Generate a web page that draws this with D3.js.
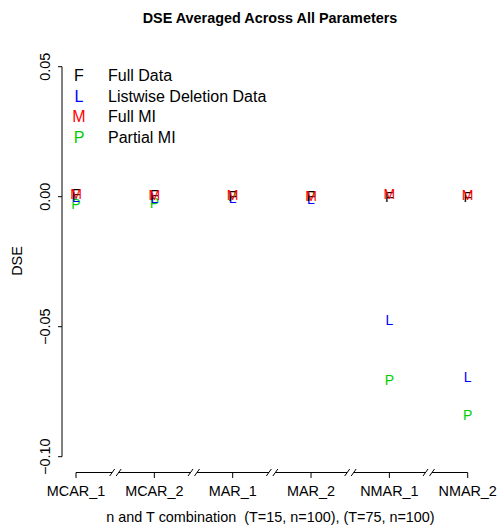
<!DOCTYPE html>
<html>
<head>
<meta charset="utf-8">
<script src="https://cdn.jsdelivr.net/npm/d3@7"></script>
<style>
  html, body { margin: 0; padding: 0; background: #fff; }
  svg { display: block; font-family: "Liberation Sans", Arial, Helvetica, sans-serif; }
</style>
</head>
<body>
<svg id="chart" width="498" height="529"></svg>
<script>
const categories = ["MCAR_1", "MCAR_2", "MAR_1", "MAR_2", "NMAR_1", "NMAR_2"];
const fullData   = [0.0009, 0.0006, 0.0004, 0.0002, 0.0000, 0.0000];
const listwise   = [-0.0002, -0.0006, -0.0006, -0.0009, -0.0474, -0.0695];
const fullMI     = [0.0010, 0.0006, 0.0005, 0.0003, 0.0010, 0.0008];
const partialMI  = [-0.0029, -0.0023, 0.0002, 0.0001, -0.0705, -0.0840];
const yTicks     = [-0.10, -0.05, 0.00, 0.05];
const yTickLabels = ["\u22120.10", "\u22120.05", "0.00", "0.05"];

const series = [
  { letter: "F", name: "Full Data", color: "#000000", values: fullData },
  { letter: "L", name: "Listwise Deletion Data", color: "#0000FF", values: listwise },
  { letter: "M", name: "Full MI", color: "#FF0000", values: fullMI },
  { letter: "P", name: "Partial MI", color: "#00CD00", values: partialMI }
];
// drawing order of the point letters (M ends on top)
const drawOrder = ["P", "L", "F", "M"];

const svg = d3.select("#chart");
const x = d3.scalePoint().domain(categories).range([76, 467.7]);
const y = d3.scaleLinear().domain([-0.10, 0.05]).range([456.7, 66.7]);
const axisX = 62;
const axisY = 472.5;
const tickFs = 14.4;

// Title
svg.append("text")
  .attr("x", 270).attr("y", 23)
  .attr("text-anchor", "middle")
  .attr("font-weight", "bold")
  .attr("font-size", 14.4)
  .text("DSE Averaged Across All Parameters");

// Y axis
const gy = svg.append("g");
gy.append("line")
  .attr("x1", axisX).attr("x2", axisX)
  .attr("y1", y(0.05)).attr("y2", y(-0.10))
  .attr("stroke", "#000").attr("stroke-width", 1);
yTicks.forEach((t, i) => {
  gy.append("line")
    .attr("x1", axisX - 4).attr("x2", axisX)
    .attr("y1", y(t)).attr("y2", y(t))
    .attr("stroke", "#000").attr("stroke-width", 1);
  gy.append("text")
    .attr("transform", `translate(50,${y(t)}) rotate(-90)`)
    .attr("text-anchor", "middle")
    .attr("font-size", tickFs)
    .text(yTickLabels[i]);
});

// Y label
svg.append("text")
  .attr("transform", "translate(21.5,261) rotate(-90)")
  .attr("text-anchor", "middle")
  .attr("font-size", 14.4)
  .text("DSE");

// X axis with break marks
const gx = svg.append("g");
const pos = categories.map(c => x(c));
for (let i = 0; i < pos.length - 1; i++) {
  const m = (pos[i] + pos[i + 1]) / 2;
  const segStart = i === 0 ? pos[i] : (pos[i - 1] + pos[i]) / 2 + 3.5;
  gx.append("line")
    .attr("x1", segStart).attr("x2", m - 3)
    .attr("y1", axisY).attr("y2", axisY)
    .attr("stroke", "#000").attr("stroke-width", 1);
  [m - 3, m + 3.5].forEach(c => {
    gx.append("line")
      .attr("x1", c - 2.5).attr("y1", axisY + 3.5)
      .attr("x2", c + 2.5).attr("y2", axisY - 3.5)
      .attr("stroke", "#000").attr("stroke-width", 1);
  });
}
{
  const m = (pos[pos.length - 2] + pos[pos.length - 1]) / 2;
  gx.append("line")
    .attr("x1", m + 3.5).attr("x2", pos[pos.length - 1])
    .attr("y1", axisY).attr("y2", axisY)
    .attr("stroke", "#000").attr("stroke-width", 1);
}
categories.forEach(c => {
  gx.append("line")
    .attr("x1", x(c)).attr("x2", x(c))
    .attr("y1", axisY).attr("y2", axisY + 5.5)
    .attr("stroke", "#000").attr("stroke-width", 1);
  gx.append("text")
    .attr("x", x(c)).attr("y", 496)
    .attr("text-anchor", "middle")
    .attr("font-size", tickFs)
    .text(c);
});

// X label
svg.append("text")
  .attr("x", 270.5).attr("y", 521.5)
  .attr("text-anchor", "middle")
  .attr("font-size", 14.4)
  .style("white-space", "pre")
  .text("n and T combination  (T=15, n=100), (T=75, n=100)");

// Points as letters
const ptFs = 14;
drawOrder.forEach(letter => {
  const s = series.find(d => d.letter === letter);
  svg.append("g")
    .selectAll("text")
    .data(s.values)
    .join("text")
    .attr("x", (d, i) => x(categories[i]))
    .attr("y", d => y(d) + ptFs * 0.716 / 2)
    .attr("text-anchor", "middle")
    .attr("font-size", ptFs)
    .attr("fill", s.color)
    .text(s.letter);
});

// Legend
const legFs = 16;
const legRows = [75.5, 96, 116.5, 137];
series.forEach((s, i) => {
  svg.append("text")
    .attr("x", 79).attr("y", legRows[i] + legFs * 0.716 / 2)
    .attr("text-anchor", "middle")
    .attr("font-size", legFs)
    .attr("fill", s.color)
    .text(s.letter);
  svg.append("text")
    .attr("x", 108).attr("y", legRows[i] + legFs * 0.716 / 2)
    .attr("font-size", legFs)
    .attr("fill", "#000")
    .text(s.name);
});
</script>
</body>
</html>
